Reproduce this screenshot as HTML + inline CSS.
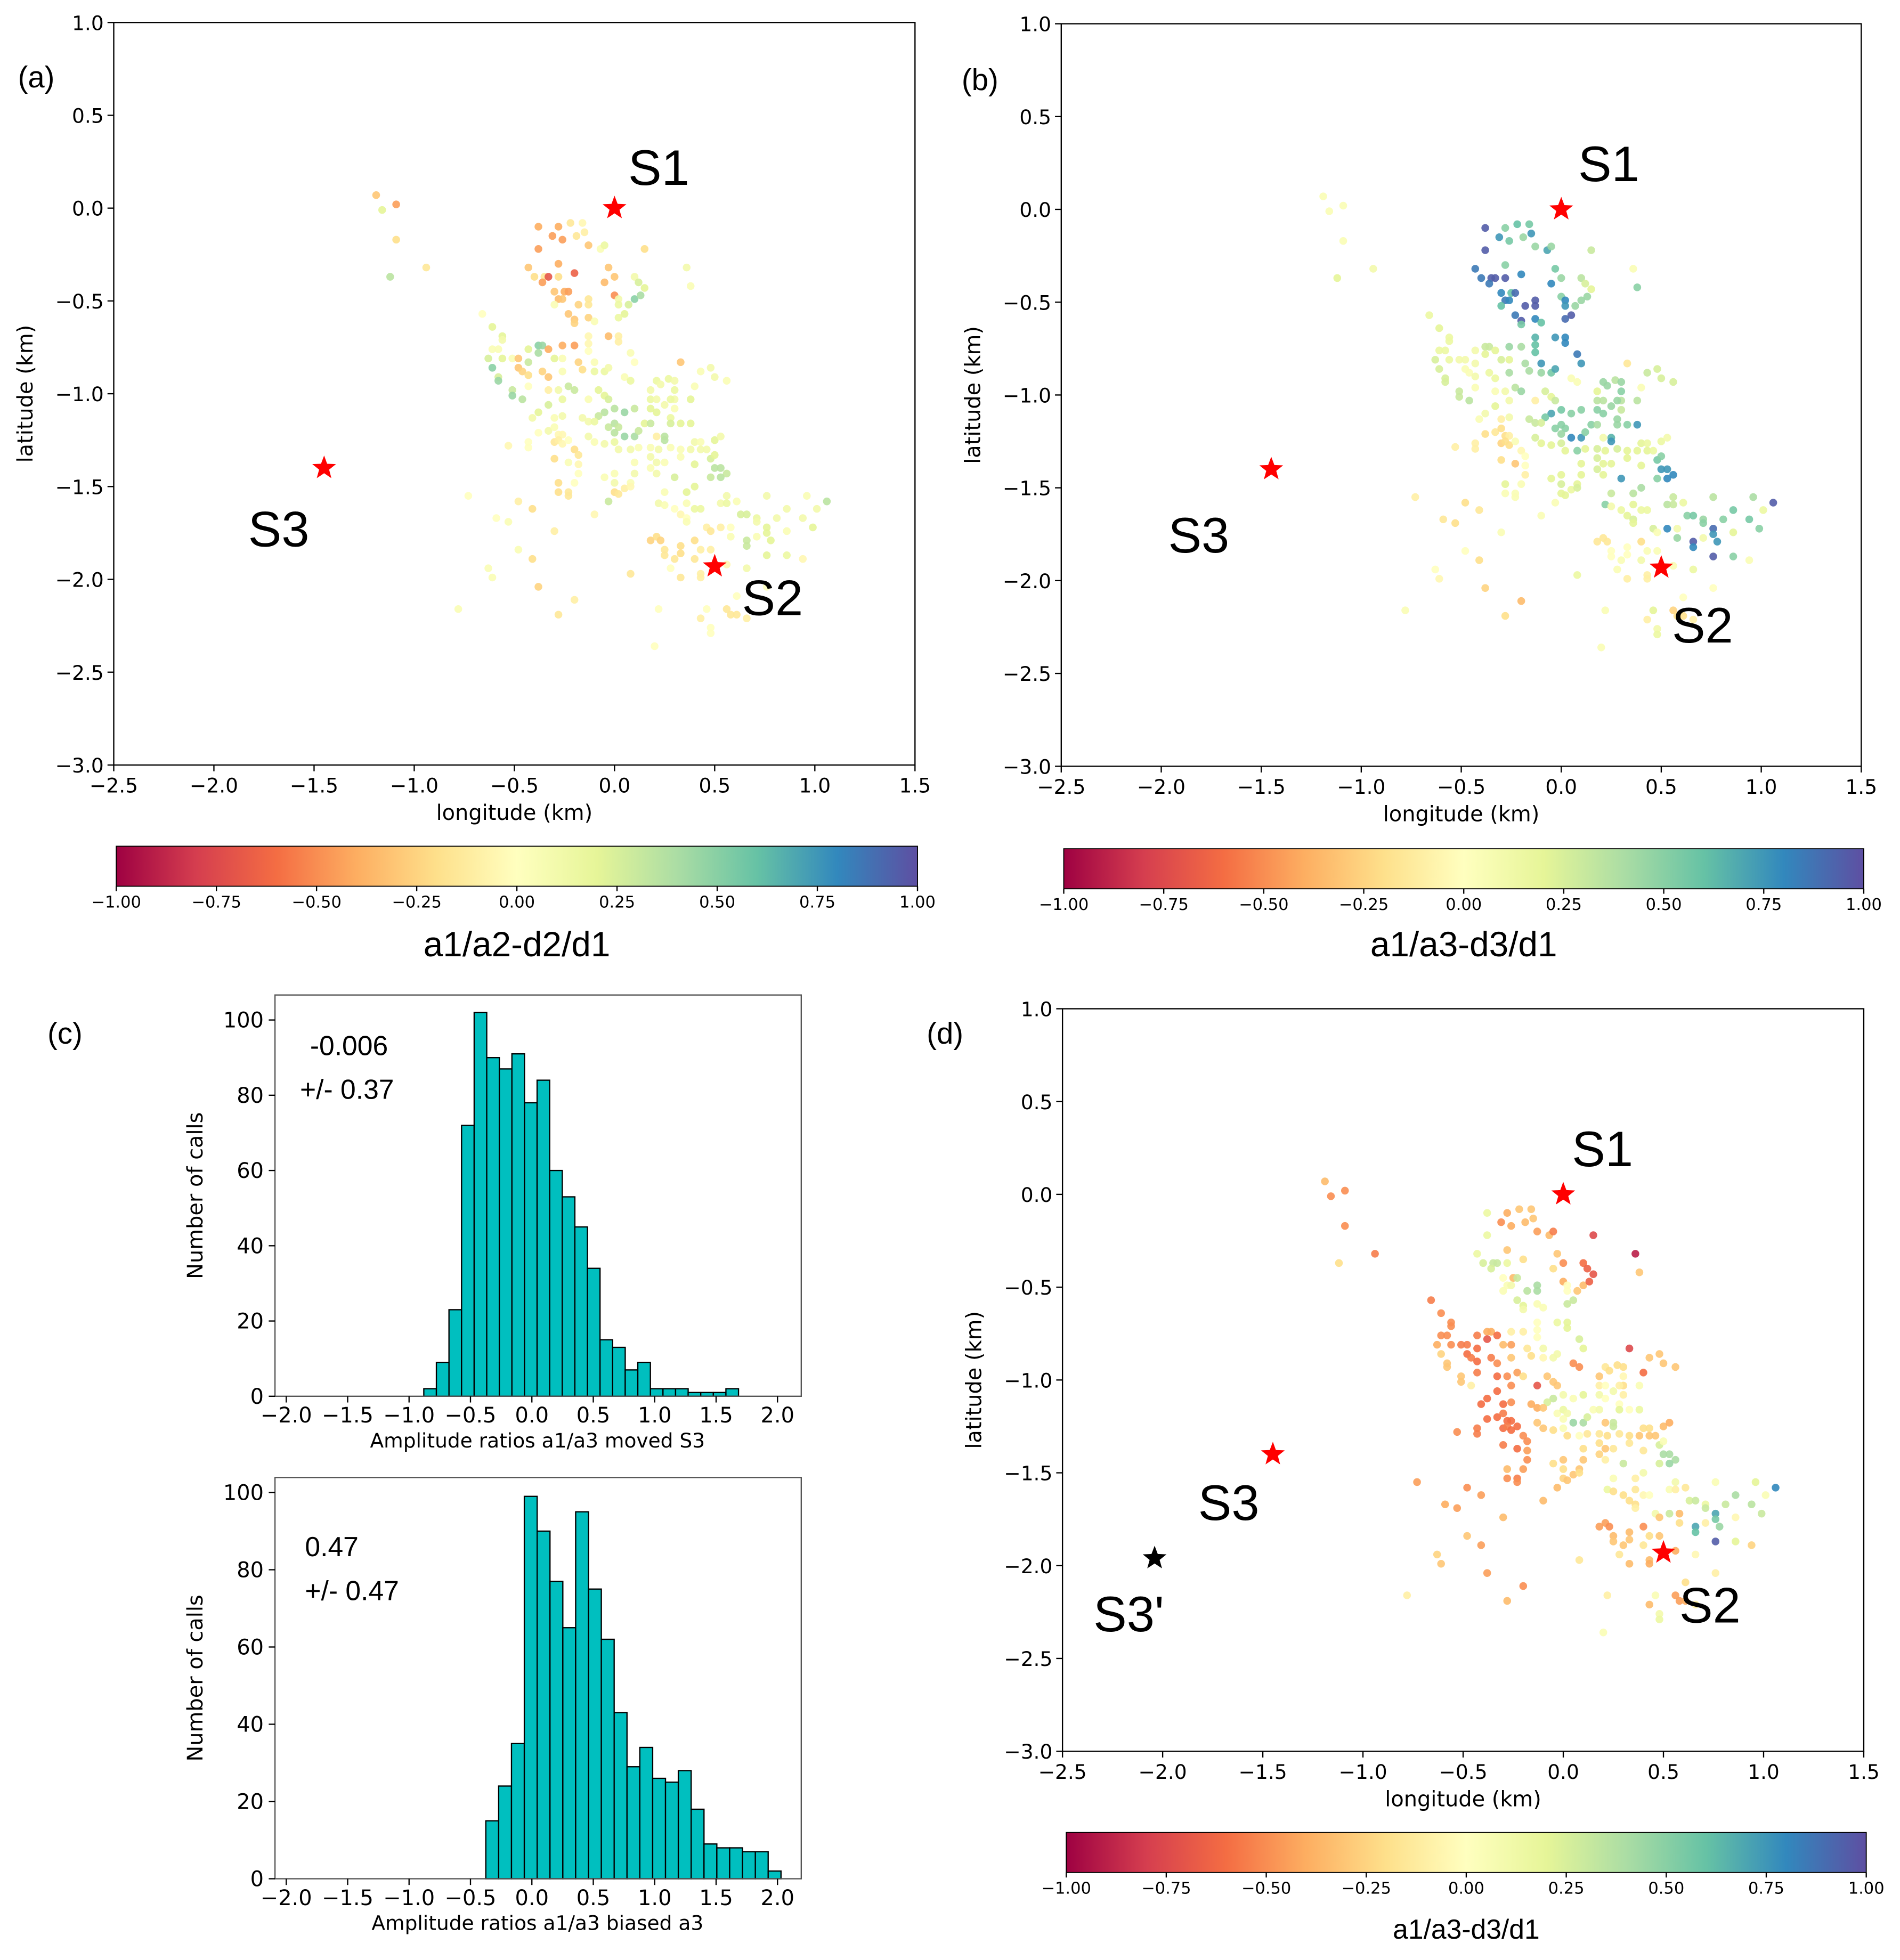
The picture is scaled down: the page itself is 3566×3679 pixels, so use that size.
<!DOCTYPE html>
<html><head><meta charset="utf-8">
<style>
html,body{margin:0;padding:0;background:#fff;}
svg{display:block;}
text{font-family:"DejaVu Sans","Liberation Sans",sans-serif;fill:#000;}
.big{font-family:"Liberation Sans","DejaVu Sans",sans-serif;}
</style></head>
<body>
<svg id="fig" xmlns="http://www.w3.org/2000/svg" width="3566" height="3679" viewBox="0 0 1520 1568" preserveAspectRatio="none">
<defs>
<linearGradient id="spec" x1="0" x2="1" y1="0" y2="0">
<stop offset="0" stop-color="#9e0142"/><stop offset="0.1" stop-color="#d53e4f"/><stop offset="0.2" stop-color="#f46d43"/><stop offset="0.3" stop-color="#fdae61"/><stop offset="0.4" stop-color="#fee08b"/><stop offset="0.5" stop-color="#ffffbf"/><stop offset="0.6" stop-color="#e6f598"/><stop offset="0.7" stop-color="#abdda4"/><stop offset="0.8" stop-color="#66c2a5"/><stop offset="0.9" stop-color="#3288bd"/><stop offset="1" stop-color="#5e4fa2"/>
</linearGradient>
</defs>
<g id="root"></g>
</svg>
<script>
// ---- scatter data (lon km, lat km, colour values per panel) ----
const lon=[
-1.19,-1.09,-1.16,-1.09,-0.94,-1.12,-0.38,-0.28,-0.22,-0.16,
-0.31,-0.26,-0.19,-0.15,-0.13,-0.07,-0.05,-0.38,0.15,-0.28,
-0.43,-0.40,-0.35,-0.33,-0.28,-0.36,-0.20,-0.03,0.00,-0.05,
0.10,0.12,0.15,0.10,0.13,0.07,0.36,0.38,-0.30,-0.25,
-0.23,-0.28,-0.26,-0.30,-0.18,-0.13,-0.13,0.00,0.02,0.02,
-0.23,-0.20,-0.20,-0.13,-0.10,0.05,0.02,-0.66,-0.61,-0.56,
-0.56,-0.13,-0.13,-0.13,-0.03,0.02,0.02,-0.26,-0.20,-0.38,
-0.36,-0.38,-0.33,-0.61,-0.58,-0.43,-0.63,-0.56,-0.51,-0.48,
-0.43,-0.30,-0.26,-0.61,-0.48,-0.46,-0.43,-0.36,-0.33,-0.26,
-0.18,-0.16,-0.10,-0.10,-0.05,-0.03,0.08,0.10,0.33,-0.58,
-0.58,-0.51,-0.51,-0.46,-0.43,-0.33,-0.28,-0.23,-0.20,-0.26,
-0.33,-0.13,-0.08,-0.05,-0.03,0.05,0.08,0.21,0.23,0.27,
0.30,0.18,0.18,0.21,0.30,0.30,0.28,0.40,0.43,0.48,
0.50,0.56,0.38,0.18,0.21,0.25,0.30,0.00,0.05,0.10,
-0.05,-0.08,-0.38,-0.41,-0.30,-0.26,-0.16,-0.13,-0.10,-0.03,
0.00,0.02,0.00,0.15,0.18,0.28,0.28,0.33,0.38,-0.38,
-0.33,-0.30,-0.28,-0.26,-0.13,0.05,0.10,0.12,0.21,0.25,
0.25,-0.30,-0.28,-0.26,-0.23,-0.10,-0.05,0.00,-0.53,-0.43,
-0.43,0.50,0.53,0.40,0.43,0.02,0.08,0.12,0.18,0.22,
0.28,0.33,0.38,0.43,0.46,-0.20,-0.18,-0.30,-0.23,-0.18,
0.10,0.18,0.21,0.25,0.33,0.40,0.48,0.50,0.18,0.21,
0.50,0.53,0.56,0.53,0.48,0.30,-0.18,-0.28,-0.20,-0.05,
0.00,0.10,0.08,0.00,-0.28,-0.23,-0.23,0.00,0.02,0.05,
0.08,-0.03,0.25,0.36,0.40,0.56,-0.73,-0.48,-0.41,-0.10,
0.22,0.25,0.30,0.36,0.40,0.43,0.53,0.56,0.61,0.76,
0.96,1.06,0.86,1.01,0.33,0.36,0.36,0.63,0.66,0.71,
0.71,0.81,0.94,0.99,-0.59,-0.53,-0.30,0.46,0.48,0.53,
0.58,0.58,0.76,0.76,0.78,0.66,0.66,0.71,0.86,0.18,
0.21,0.23,0.25,0.25,0.33,0.33,0.40,0.43,0.48,0.30,
0.40,0.56,0.66,0.76,0.86,0.94,-0.48,-0.41,-0.63,-0.61,
0.08,0.28,0.33,0.43,0.43,-0.38,-0.20,-0.78,-0.28,0.22,
0.46,0.43,0.56,0.58,0.61,0.66,0.61,0.76,0.48,0.48,
0.20];
const lat=[
0.07,0.02,-0.01,-0.17,-0.32,-0.37,-0.10,-0.10,-0.08,-0.08,
-0.15,-0.17,-0.15,-0.13,-0.20,-0.22,-0.20,-0.22,-0.22,-0.30,
-0.32,-0.37,-0.37,-0.37,-0.37,-0.40,-0.35,-0.32,-0.37,-0.40,
-0.37,-0.40,-0.43,-0.49,-0.47,-0.52,-0.32,-0.42,-0.45,-0.45,
-0.45,-0.49,-0.49,-0.52,-0.52,-0.49,-0.52,-0.47,-0.49,-0.52,
-0.57,-0.60,-0.62,-0.59,-0.61,-0.57,-0.59,-0.57,-0.64,-0.69,
-0.71,-0.69,-0.73,-0.77,-0.69,-0.69,-0.72,-0.74,-0.74,-0.74,
-0.74,-0.78,-0.76,-0.76,-0.76,-0.76,-0.81,-0.81,-0.81,-0.81,
-0.83,-0.81,-0.81,-0.86,-0.86,-0.88,-0.90,-0.88,-0.91,-0.88,
-0.83,-0.87,-0.83,-0.88,-0.88,-0.86,-0.78,-0.83,-0.83,-0.91,
-0.93,-0.98,-1.01,-1.03,-0.96,-0.98,-0.98,-0.96,-0.98,-1.03,
-1.06,-1.03,-0.98,-1.01,-1.03,-0.91,-0.93,-0.93,-0.95,-0.92,
-0.93,-0.98,-1.03,-1.03,-0.98,-1.03,-1.03,-0.96,-0.88,-0.86,
-0.91,-0.93,-1.03,-1.08,-1.10,-1.06,-1.08,-1.08,-1.10,-1.08,
-1.10,-1.12,-1.10,-1.13,-1.13,-1.12,-1.13,-1.15,-1.15,-1.18,
-1.16,-1.18,-1.21,-1.16,-1.16,-1.13,-1.16,-1.16,-1.16,-1.21,
-1.20,-1.18,-1.22,-1.22,-1.23,-1.23,-1.23,-1.20,-1.23,-1.23,
-1.25,-1.26,-1.25,-1.27,-1.25,-1.26,-1.27,-1.26,-1.28,-1.26,
-1.29,-1.25,-1.23,-1.26,-1.26,-1.30,-1.30,-1.29,-1.29,-1.30,
-1.29,-1.30,-1.30,-1.30,-1.30,-1.30,-1.33,-1.35,-1.37,-1.38,
-1.37,-1.34,-1.37,-1.37,-1.34,-1.38,-1.35,-1.33,-1.40,-1.43,
-1.40,-1.40,-1.43,-1.45,-1.45,-1.45,-1.43,-1.48,-1.48,-1.45,
-1.43,-1.43,-1.48,-1.48,-1.53,-1.53,-1.55,-1.53,-1.54,-1.51,
-1.50,-1.58,-1.53,-1.53,-1.50,-1.55,-1.55,-1.58,-1.62,-1.65,
-1.59,-1.60,-1.62,-1.59,-1.62,-1.62,-1.59,-1.59,-1.58,-1.55,
-1.55,-1.58,-1.62,-1.62,-1.65,-1.67,-1.69,-1.65,-1.65,-1.67,
-1.69,-1.67,-1.67,-1.72,-1.67,-1.69,-1.74,-1.72,-1.74,-1.72,
-1.72,-1.77,-1.72,-1.75,-1.79,-1.79,-1.82,-1.77,-1.74,-1.79,
-1.77,-1.79,-1.84,-1.87,-1.82,-1.86,-1.79,-1.84,-1.84,-1.89,
-1.89,-1.92,-1.94,-1.87,-1.87,-1.89,-1.84,-1.89,-1.94,-1.99,
-1.97,-1.94,-1.99,-1.97,-1.99,-2.04,-2.11,-2.16,-2.19,-2.16,
-2.16,-2.21,-2.16,-2.19,-2.19,-2.21,-2.09,-2.04,-2.26,-2.29,
-2.36];
const valA=[
-0.3,-0.45,0.2,-0.2,-0.15,0.35,-0.4,-0.4,-0.15,-0.05,
-0.45,-0.45,-0.15,-0.1,-0.3,0.05,0.15,-0.45,-0.2,-0.4,
-0.3,-0.2,-0.15,-0.7,-0.2,-0.45,-0.65,-0.3,-0.3,-0.35,
0.1,0.25,0.2,0.5,0.4,0.25,0.1,0.05,-0.3,-0.4,
-0.45,-0.35,-0.3,0.05,-0.25,-0.15,-0.15,-0.5,0.1,0.15,
-0.3,-0.3,-0.25,-0.25,0.05,0.2,0.15,0.0,0.2,0.2,
0.1,-0.05,-0.05,0.0,-0.35,-0.1,-0.1,-0.4,-0.45,0.5,
0.45,0.4,-0.4,0.05,0.05,0.2,0.25,0.2,0.05,-0.3,
0.3,0.2,0.05,0.5,-0.3,-0.25,-0.2,-0.25,-0.3,0.05,
-0.25,-0.2,0.05,0.15,0.15,0.1,0.05,0.0,-0.3,0.25,
0.45,0.3,0.45,0.35,0.0,-0.1,0.1,0.3,0.3,0.15,
0.25,0.05,0.2,0.2,0.25,0.05,0.15,0.15,0.1,0.15,
0.1,0.1,0.15,0.1,0.15,0.1,0.15,0.05,0.05,0.1,
0.1,0.05,0.2,0.2,0.2,0.1,0.05,0.35,0.45,0.3,
0.35,0.3,0.2,0.1,0.05,0.1,0.1,0.1,0.15,0.3,
0.35,0.3,0.35,0.2,0.3,0.15,0.25,0.2,0.2,0.0,
0.1,0.05,-0.05,-0.05,0.1,0.45,0.4,0.3,-0.1,0.35,
0.35,-0.15,-0.1,-0.05,0.0,0.05,0.1,0.15,-0.05,0.0,
0.0,0.2,0.1,0.1,0.05,0.1,0.1,0.05,0.05,0.1,
0.05,0.05,0.1,0.1,0.1,-0.2,-0.15,-0.2,0.05,-0.05,
0.05,0.1,0.1,0.05,0.05,0.2,0.25,0.2,0.05,0.1,
0.35,0.35,0.3,0.35,0.3,0.25,0.0,-0.2,0.0,0.05,
0.05,0.1,0.05,0.1,-0.2,-0.15,-0.15,-0.2,-0.15,-0.1,
-0.05,0.3,0.05,0.2,0.2,0.1,0.0,-0.1,-0.2,-0.05,
0.1,0.05,0.0,0.05,0.15,0.15,0.1,0.15,0.05,0.1,
0.05,0.35,0.1,0.1,-0.05,0.0,0.05,0.25,0.25,0.15,
0.1,0.1,0.1,0.2,0.0,0.05,-0.1,-0.1,-0.15,-0.1,
0.0,0.05,0.2,0.2,0.2,0.3,0.3,0.05,0.05,-0.25,
-0.2,-0.25,-0.15,-0.15,-0.2,-0.2,-0.2,-0.1,-0.1,-0.15,
-0.15,-0.05,0.1,0.2,0.15,-0.05,0.05,-0.2,0.05,0.05,
-0.15,0.0,-0.15,-0.1,-0.1,-0.25,-0.1,0.05,-0.15,0.0,
0.0,-0.1,-0.15,-0.15,-0.15,-0.1,0.0,0.0,0.0,0.0,
0.0];
const valB=[
0.05,0.05,0.05,0.05,0.1,0.2,0.95,0.5,0.6,0.55,
0.75,0.55,0.45,0.75,0.45,0.7,0.45,0.95,0.3,0.5,
0.85,0.85,0.95,0.95,0.95,0.85,0.8,0.55,0.45,0.8,
0.35,0.25,0.2,0.45,0.45,0.45,0.05,0.5,0.8,0.6,
0.9,0.85,0.8,0.6,0.95,0.95,0.95,0.5,0.8,0.75,
0.85,0.95,0.55,0.8,0.6,0.95,0.9,0.15,0.2,0.15,
0.15,0.65,0.6,0.6,0.75,0.8,0.8,0.45,0.4,0.3,
0.3,0.2,0.2,0.15,0.15,0.1,0.25,0.15,0.1,0.1,
0.1,0.25,0.2,0.25,0.05,0.05,0.1,0.15,0.15,0.4,
0.4,0.4,0.75,0.45,0.55,0.7,0.85,0.75,-0.15,0.25,
0.25,0.3,0.3,0.35,0.05,0.05,0.1,0.35,0.45,0.1,
0.2,-0.1,0.25,0.2,0.3,0.05,0.05,0.45,0.45,0.35,
0.45,0.2,0.35,0.35,0.5,0.35,0.45,0.05,0.3,0.25,
0.25,0.25,0.35,0.5,0.5,0.45,0.3,0.55,0.5,0.5,
0.7,0.55,0.1,0.05,-0.1,0.1,0.3,0.3,0.25,0.5,
0.5,0.5,0.45,0.5,0.4,0.45,0.45,0.5,0.75,-0.2,
-0.15,-0.2,-0.2,-0.1,0.25,0.8,0.75,0.5,0.1,0.65,
0.75,-0.25,-0.2,-0.2,0.05,0.2,0.2,0.25,-0.1,-0.1,
-0.1,0.15,0.1,0.2,0.15,0.2,0.5,0.2,0.25,0.2,
0.25,0.2,0.2,0.2,0.15,-0.05,0.0,-0.2,-0.3,0.0,
0.2,0.25,0.2,0.2,0.2,0.2,0.55,0.5,0.25,0.2,
0.75,0.75,0.8,0.8,0.5,0.75,-0.1,0.2,0.05,0.2,
0.2,0.2,0.2,0.25,0.05,0.05,0.05,0.2,0.2,0.15,
0.25,0.05,0.3,0.35,0.4,0.3,-0.1,-0.2,-0.15,0.05,
0.5,0.1,0.15,0.2,0.15,0.15,0.35,0.3,0.15,0.35,
0.4,0.95,0.55,0.15,0.2,0.25,0.2,0.5,0.55,0.45,
0.5,0.5,0.55,0.5,-0.15,-0.2,0.05,0.25,0.05,0.8,
0.1,0.45,0.9,0.75,0.75,0.95,0.8,0.1,0.2,-0.15,
-0.15,-0.15,0.0,0.0,0.0,0.0,-0.2,0.05,0.05,0.05,
0.1,0.05,0.15,0.95,0.5,0.05,0.0,-0.2,0.0,-0.05,
0.15,0.05,-0.1,-0.1,-0.1,-0.25,-0.35,0.05,-0.2,0.05,
0.2,-0.1,-0.25,-0.2,-0.2,-0.1,0.0,0.0,0.1,0.15,
0.05];
const valD=[
-0.35,-0.5,-0.5,-0.5,-0.55,-0.2,0.15,-0.4,-0.3,-0.3,
-0.5,-0.4,-0.35,-0.3,-0.45,-0.35,-0.55,0.15,-0.75,-0.3,
0.15,0.25,0.3,0.3,0.15,0.25,-0.2,-0.3,-0.5,-0.2,
-0.6,-0.65,-0.7,-0.35,-0.65,-0.3,-0.9,-0.3,0.0,-0.35,
0.3,0.05,0.1,0.05,0.35,0.4,0.4,-0.4,0.0,0.0,
0.25,0.2,0.1,0.05,0.05,0.3,0.3,-0.55,-0.5,-0.5,
-0.5,0.0,0.0,0.0,0.15,0.2,0.2,-0.1,-0.1,-0.4,
-0.4,-0.7,-0.6,-0.5,-0.5,-0.55,-0.4,-0.5,-0.55,-0.55,
-0.6,-0.35,-0.45,-0.25,-0.6,-0.55,-0.6,-0.55,-0.5,-0.3,
-0.15,-0.2,0.1,-0.05,0.1,0.1,0.25,0.2,-0.75,-0.3,
-0.3,-0.3,-0.3,-0.1,-0.55,-0.6,-0.5,-0.45,-0.2,-0.5,
-0.6,-0.7,-0.3,-0.3,-0.3,-0.5,-0.5,-0.15,-0.2,-0.2,
-0.2,-0.3,-0.1,0.0,-0.05,-0.2,-0.1,-0.6,-0.3,-0.3,
-0.3,-0.3,0.05,0.1,0.0,0.1,-0.1,0.1,0.05,0.2,
0.3,0.25,-0.6,-0.6,-0.6,-0.5,-0.4,-0.4,-0.3,0.05,
0.15,0.1,0.05,0.05,0.1,0.0,0.2,0.0,0.15,-0.6,
-0.6,-0.55,-0.6,-0.6,-0.3,0.45,0.4,0.25,-0.3,0.3,
0.3,-0.6,-0.55,-0.6,-0.6,-0.3,-0.2,0.05,-0.5,-0.55,
-0.55,-0.35,-0.4,-0.2,-0.2,-0.2,0.0,-0.15,-0.15,-0.2,
-0.15,-0.2,-0.3,-0.3,-0.3,-0.5,-0.5,-0.55,-0.6,-0.45,
-0.2,-0.2,-0.3,-0.15,-0.15,-0.15,0.25,0.05,-0.25,-0.1,
0.4,0.4,0.4,0.45,0.25,0.3,-0.5,-0.35,-0.45,-0.2,
-0.3,-0.3,-0.3,-0.2,-0.5,-0.55,-0.5,-0.25,-0.3,-0.3,
-0.2,-0.35,0.05,-0.1,0.1,0.1,-0.45,-0.5,-0.45,-0.35,
0.15,-0.2,-0.2,-0.15,-0.05,0.0,0.05,-0.1,-0.15,0.05,
0.2,0.8,0.4,0.05,-0.2,-0.2,-0.1,0.25,0.3,0.15,
0.3,0.3,0.35,0.3,-0.4,-0.45,-0.35,0.1,-0.3,0.3,
-0.35,-0.2,0.7,0.55,0.45,0.7,0.6,-0.1,-0.05,-0.45,
-0.45,-0.5,-0.35,-0.3,-0.35,-0.3,-0.5,-0.2,-0.3,-0.3,
-0.15,-0.4,-0.05,0.95,0.2,-0.25,-0.3,-0.45,-0.25,-0.3,
-0.15,-0.15,-0.35,-0.35,-0.4,-0.45,-0.5,-0.1,-0.35,-0.1,
0.05,-0.35,-0.45,-0.45,-0.4,-0.1,-0.2,-0.1,0.1,0.15,
0.05];
// stations
const starNames=["S1","S2","S3"];
const starLon=[0.0,0.5,-1.45];
const starLat=[0.0,-1.93,-1.40];
const movedS3Lon=[-2.04];
const movedS3Lat=[-1.96];
// axis ticks
const xTicks=[-2.5,-2.0,-1.5,-1.0,-0.5,0.0,0.5,1.0,1.5];
const yTicks=[1.0,0.5,0.0,-0.5,-1.0,-1.5,-2.0,-2.5,-3.0];
const cbTicks=[-1.00,-0.75,-0.50,-0.25,0.00,0.25,0.50,0.75,1.00];
// histograms
const histTopCounts=[2,9,23,72,102,90,87,91,78,84,60,53,45,34,15,13,7,9,2,2,2,1,1,1,2];
const histTopBinStart=[-0.88];
const histTopBinWidth=[0.1025];
const histBotCounts=[15,24,35,99,90,77,65,95,75,62,43,29,34,26,25,28,18,9,8,8,7,7,2];
const histBotBinStart=[-0.375];
const histBotBinWidth=[0.1045];
const histXTicks=[-2.0,-1.5,-1.0,-0.5,0.0,0.5,1.0,1.5,2.0];
const histYTicks=[0,20,40,60,80,100];

const NS="http://www.w3.org/2000/svg";
const root=document.getElementById('root');
function mk(tag,attrs,parent){const e=document.createElementNS(NS,tag);for(const k in attrs)e.setAttribute(k,attrs[k]);(parent||root).appendChild(e);return e;}
function txt(s,x,y,size,anchor,parent,extra){const e=mk('text',Object.assign({x:x,y:y,'font-size':size,'text-anchor':anchor||'middle'},extra||{}),parent);e.textContent=s;return e;}
function fmt(v,d){const s=v.toFixed(d);return v<0?'\u2212'+s.slice(1):s;}
const stops=["#9e0142","#d53e4f","#f46d43","#fdae61","#fee08b","#ffffbf","#e6f598","#abdda4","#66c2a5","#3288bd","#5e4fa2"];
function hex(h){return [parseInt(h.substr(1,2),16),parseInt(h.substr(3,2),16),parseInt(h.substr(5,2),16)];}
function cmap(v){let t=(Math.max(-1,Math.min(1,v))+1)/2*10;let i=Math.min(9,Math.floor(t));let f=t-i;const a=hex(stops[i]),b=hex(stops[i+1]);return 'rgb('+a.map((c,k)=>Math.round(c+(b[k]-c)*f)).join(',')+')';}
function starPts(cx,cy,R){let p=[];for(let i=0;i<10;i++){const r=i%2?R*0.42:R;const a=-Math.PI/2+i*Math.PI/5;p.push((cx+r*Math.cos(a)).toFixed(1)+','+(cy+r*Math.sin(a)).toFixed(1));}return p.join(' ');}

function mapPanel(cfg){
  const g=mk('g',{});
  
  
  const sx=v=>cfg.x0+(v+2.5)/4*(cfg.x1-cfg.x0);
  const sy=v=>cfg.y0+(1-v)/4*(cfg.y1-cfg.y0);
  const pg=mk('g',{},g);
  
  
  for(let i=0;i<lon.length;i++){
    const c=mk('circle',{cx:sx(lon[i]),cy:sy(lat[i]),r:3.1,fill:cmap(cfg.vals[i]),'fill-opacity':0.9},pg);
    
    
  }
  for(let i=0;i<starNames.length;i++){
    const s=mk('polygon',{points:starPts(sx(starLon[i]),sy(starLat[i]),10),fill:'#ff0000'},g);
    
    
  }
  if(cfg.moved){
    const s=mk('polygon',{points:starPts(sx(movedS3Lon[0]),sy(movedS3Lat[0]),10),fill:'#000'},g);
    
    
  }
  cfg.labels.forEach(l=>{const t=txt(l[0],l[1],l[2],40,'middle',g,{class:'big'});
    
    });
  const fr=mk('rect',{x:cfg.x0,y:cfg.y0,width:cfg.x1-cfg.x0,height:cfg.y1-cfg.y0,fill:'none',stroke:'#000','stroke-width':1},g);
  
  
  xTicks.forEach(v=>{const x=sx(v);mk('line',{x1:x,x2:x,y1:cfg.y1,y2:cfg.y1+5,stroke:'#000'},g);
    const t=txt(fmt(v,1),x,cfg.y1+22,16,'middle',g);
    
    });
  yTicks.forEach(v=>{const y=sy(v);mk('line',{x1:cfg.x0-5,x2:cfg.x0,y1:y,y2:y,stroke:'#000'},g);
    const t=txt(fmt(v,1),cfg.x0-8,y+6,16,'end',g);
    
    });
  const xl=txt('longitude (km)',(cfg.x0+cfg.x1)/2,cfg.y1+44,17,'middle',g);
  
  
  const yx=cfg.x0-65,yy=(cfg.y0+cfg.y1)/2;
  const yl=txt('latitude (km)',yx,yy,17,'middle',g,{transform:'rotate(-90 '+yx+' '+yy+')'});
  
  
  const pl=txt(cfg.panel,cfg.plx,cfg.ply,24,'middle',g,{class:'big'});
  
  
  const cb=cfg.cb;
  const cg=mk('g',{},g);
  
  
  mk('rect',{x:cb.x,y:cb.y,width:cb.w,height:32,fill:'url(#spec)',stroke:'#000','stroke-width':0.8},cg);
  cbTicks.forEach(v=>{const x=cb.x+(v+1)/2*cb.w;mk('line',{x1:x,x2:x,y1:cb.y+32,y2:cb.y+36,stroke:'#000'},cg);
    const t=txt(fmt(v,2),x,cb.y+49,13,'middle',cg);
    
    });
  const ct=txt(cfg.cbLabel,cb.x+cb.w/2,cb.lblY,cb.lblSize,'middle',cg,{class:'big'});
  
  
}

mapPanel({name:'panel-a-map',panel:'(a)',plx:29,ply:70,x0:91,x1:732,y0:18,y1:612,vals:valA,
  labels:[['S1',527,148],['S2',618,492],['S3',223,437]],
  cb:{x:93,w:641,y:677,lblY:765,lblSize:28},cbLabel:'a1/a2-d2/d1'});
mapPanel({name:'panel-b-map',panel:'(b)',plx:784,ply:72,x0:849,x1:1489,y0:19,y1:613,vals:valB,
  labels:[['S1',1287,145],['S2',1362,514],['S3',959,442]],
  cb:{x:851,w:640,y:679,lblY:765,lblSize:28},cbLabel:'a1/a3-d3/d1'});
mapPanel({name:'panel-d-map',panel:'(d)',plx:756,ply:835,x0:850,x1:1491,y0:807,y1:1401,vals:valD,moved:true,
  labels:[['S1',1282,933],['S2',1368,1298],['S3',983,1216],["S3'",903,1305]],
  cb:{x:853,w:640,y:1466,lblY:1551,lblSize:22},cbLabel:'a1/a3-d3/d1'});

function histPanel(cfg){
  const g=mk('g',{});
  
  
  const sx=v=>229+(v+2)/4*(622-229);
  const sy=v=>cfg.base-v/100*(cfg.base-cfg.y100);
  for(let i=0;i<cfg.counts.length;i++){
    const a=cfg.start+i*cfg.width,b=a+cfg.width;
    const r=mk('rect',{x:sx(a),y:sy(cfg.counts[i]),width:sx(b)-sx(a),height:sy(0)-sy(cfg.counts[i]),fill:'#00bfbf',stroke:'#000','stroke-width':1},g);
    
    
  }
  const fr=mk('rect',{x:220,y:cfg.top,width:421,height:cfg.base-cfg.top,fill:'none',stroke:'#555','stroke-width':1},g);
  
  
  histXTicks.forEach(v=>{const x=sx(v);mk('line',{x1:x,x2:x,y1:cfg.base,y2:cfg.base+5,stroke:'#000'},g);
    const t=txt(fmt(v,1),x,cfg.base+21,17,'middle',g);
    
    });
  histYTicks.forEach(v=>{const y=sy(v);mk('line',{x1:215,x2:220,y1:y,y2:y,stroke:'#000'},g);
    const t=txt(String(v),211,y+6,17,'end',g);
    
    });
  const xl=txt(cfg.xlabel,430,cfg.base+41,16,'middle',g);
  
  
  const yx=162,yy=(cfg.top+cfg.base)/2;
  const yl=txt('Number of calls',yx,yy,17,'middle',g,{transform:'rotate(-90 '+yx+' '+yy+')'});
  
  
  const a1=txt(cfg.ann1,cfg.ax1,cfg.ay,22,'start',g,{class:'big'});
  
  
  const a2=txt(cfg.ann2,cfg.ax2,cfg.ay+35,22,'start',g,{class:'big'});
  
  
}
histPanel({name:'panel-c-hist-moved-s3',top:796,base:1117,y100:816,counts:histTopCounts,start:histTopBinStart[0],width:histTopBinWidth[0],
  xlabel:'Amplitude ratios a1/a3 moved S3',ann1:'-0.006',ann2:'+/- 0.37',ax1:248,ax2:240,ay:844});
histPanel({name:'panel-c-hist-biased-a3',top:1182,base:1503,y100:1194,counts:histBotCounts,start:histBotBinStart[0],width:histBotBinWidth[0],
  xlabel:'Amplitude ratios a1/a3 biased a3',ann1:'0.47',ann2:'+/- 0.47',ax1:244,ax2:244,ay:1245});
const pc=txt('(c)',52,835,24,'middle',root,{class:'big'});


</script>
</body></html>
